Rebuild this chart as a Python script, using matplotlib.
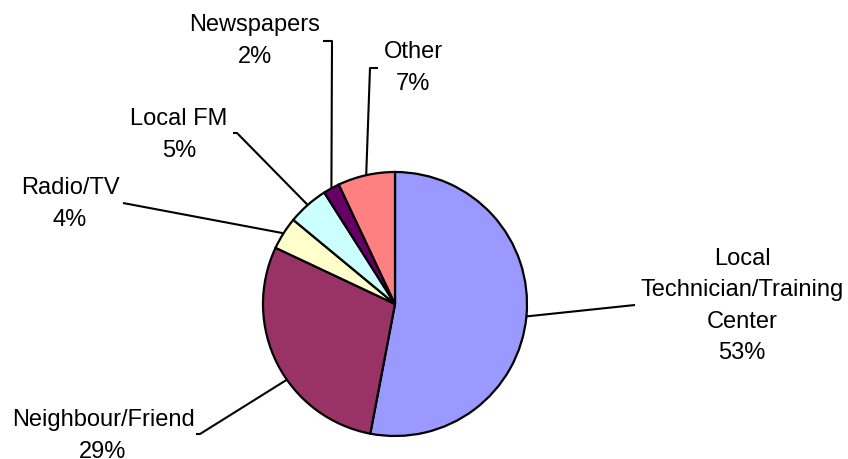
import numpy as np
import matplotlib
matplotlib.use("Agg")
import matplotlib.pyplot as plt

# ---- data ----
categories = ["Local\nTechnician/Training\nCenter", "Neighbour/Friend", "Radio/TV",
              "Local FM", "Newspapers", "Other"]
values = [53, 29, 4, 5, 2, 7]
colors = ["#9999FF", "#993366", "#FFFFCC", "#CCFFFF", "#660066", "#FF8080"]

# ---- layout (pixel space of the 848x459 figure) ----
W, H = 848, 459
CX, CY, R = 395, 304, 132
# label block centres
label_pos = [(742, 306), (103, 436), (70, 204), (179, 135), (255, 41), (413, 68)]
# leader line: start point near label, optional elbow point
leader_start = [(635, 305), (196, 434), (123, 203), (233, 133), (323, 41), (378, 68)]
leader_elbow = [None, (200, 434), None, (237, 133), (332, 41), (370, 68)]
anchor_shift = [0, 8, 0, 0, 0, 0]  # degrees added to the wedge mid-angle


def P(px, py):
    return ((px - CX) / R, (CY - py) / R)


plt.rcParams['font.family'] = ['Liberation Sans', 'DejaVu Sans']
fig = plt.figure(figsize=(W / 100, H / 100), dpi=100)
ax = fig.add_axes([0, 0, 1, 1])

wedges, _ = ax.pie(values, colors=colors, startangle=90, counterclock=False,
                   radius=1, center=(0, 0),
                   wedgeprops=dict(edgecolor="black", linewidth=1.6))

for i, w in enumerate(wedges):
    mid = np.deg2rad((w.theta1 + w.theta2) / 2 + anchor_shift[i])
    ex, ey = np.cos(mid), np.sin(mid)
    pts = [P(*leader_start[i])]
    if leader_elbow[i] is not None:
        pts.append(P(*leader_elbow[i]))
    pts.append((ex, ey))
    xs, ys = zip(*pts)
    ax.plot(xs, ys, color="black", linewidth=1.5, solid_capstyle="butt", zorder=0.5)
    tx, ty = P(*label_pos[i])
    ax.text(tx, ty, f"{categories[i]}\n{values[i]}%", ha="center", va="center",
            fontsize=17, linespacing=1.55, color="black")

ax.set_xlim(-CX / R, (W - CX) / R)
ax.set_ylim(-(H - CY) / R, CY / R)
ax.set_aspect("auto")
ax.axis("off")
fig.savefig("out.png", dpi=100, facecolor="white")
